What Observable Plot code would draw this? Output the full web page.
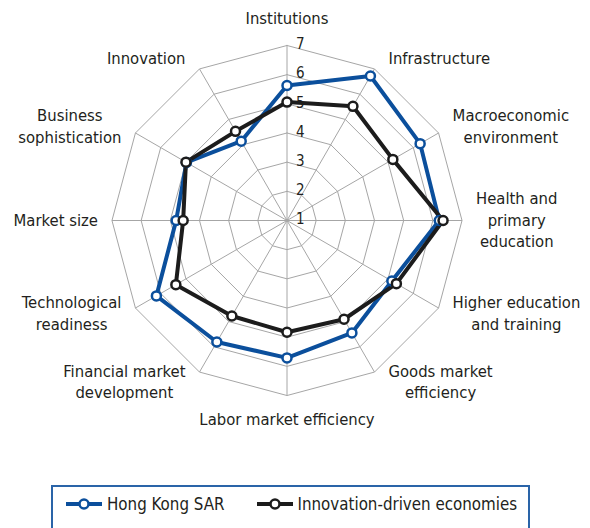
<!DOCTYPE html>
<html>
<head>
<meta charset="utf-8">
<script src="https://cdn.jsdelivr.net/npm/d3@7"></script>
<script src="https://cdn.jsdelivr.net/npm/@observablehq/plot@0.6"></script>
<style>
  html, body { margin: 0; padding: 0; background: #fff; }
  body { width: 590px; height: 528px; overflow: hidden;
         font-family: "DejaVu Sans Condensed", "DejaVu Sans", sans-serif; font-stretch: condensed; color: #231f20; }
  #chart svg { display: block; }
  #legend { margin: 5px 0 0 51px; width: 475px; border: 2px solid #2a64a8; box-sizing: content-box;
            display: flex; align-items: center; height: 34px; padding-bottom: 30px; font-size: 16.8px; }
  #legend .item { display: flex; align-items: center; }
  #legend svg { display: block; margin-right: 5px; }
</style>
</head>
<body>
<div id="chart"></div>
<div id="legend"></div>
<script>
// ---- data ----
const categories = [
  "Institutions",
  "Infrastructure",
  "Macroeconomic\nenvironment",
  "Health and\nprimary\neducation",
  "Higher education\nand training",
  "Goods market\nefficiency",
  "Labor market efficiency",
  "Financial market\ndevelopment",
  "Technological\nreadiness",
  "Market size",
  "Business\nsophistication",
  "Innovation"
];
const hongKong =         [5.63, 6.72, 6.27, 6.22, 5.15, 5.45, 5.71, 5.81, 6.17, 4.80, 4.98, 4.14];
const innovationDriven = [5.06, 5.52, 5.19, 6.35, 5.33, 4.91, 4.83, 4.78, 5.40, 4.56, 5.00, 4.53];
const seriesNames = ["Hong Kong SAR", "Innovation-driven economies"];
const tickValues = [1, 2, 3, 4, 5, 6, 7];

// ---- layout ----
const W = 590, H = 480;
const cx = 286.5, cy = 220, k = 29.17; // px per unit
const vMin = 1, vMax = 7;
const colors = ["#0b4f9c", "#1c1c1c"];
const n = categories.length;
const ang = i => (i * 2 * Math.PI) / n;
const px = (v, i) => (v - vMin) * Math.sin(ang(i));
const py = (v, i) => (v - vMin) * Math.cos(ang(i));

// rings
const rings = [];
for (const t of tickValues.filter(t => t > vMin)) {
  for (let i = 0; i <= n; i++) rings.push({t, x: px(t, i % n), y: py(t, i % n)});
}
// spokes
const spokes = categories.map((c, i) => ({x1: 0, y1: 0, x2: px(vMax, i), y2: py(vMax, i)}));

// series
const seriesValues = [hongKong, innovationDriven];
const lineData = [];
const dotData = [];
seriesValues.forEach((vals, s) => {
  for (let i = 0; i <= n; i++) {
    const d = {series: seriesNames[s], x: px(vals[i % n], i % n), y: py(vals[i % n], i % n)};
    lineData.push(d);
    if (i < n) dotData.push(d);
  }
});

// category labels: measured width for placement
const labelFontSize = 16.5;
const ctx = document.createElement("canvas").getContext("2d");
ctx.font = `${labelFontSize}px "DejaVu Sans Condensed", "DejaVu Sans", sans-serif`;
const labels = categories.map((c, i) => {
  const w = Math.max(...c.split("\n").map(l => ctx.measureText(l).width));
  const s = Math.sin(ang(i)), co = Math.cos(ang(i));
  let dx, dy;
  if (Math.abs(s) < 0.01) { dx = 0; dy = co > 0 ? -27 : 24; }
  else { dx = Math.sign(s) * (14 + w / 2); dy = -co * 12; }
  dy -= 2;
  return {text: c, x: px(vMax, i) + dx / k, y: py(vMax, i) - dy / k};
});

const chart = Plot.plot({
  width: W, height: H,
  marginTop: 0, marginRight: 0, marginBottom: 0, marginLeft: 0,
  x: {domain: [-cx / k, (W - cx) / k], axis: null},
  y: {domain: [(cy - H) / k, cy / k], axis: null},
  style: {fontFamily: '"DejaVu Sans Condensed", "DejaVu Sans", sans-serif', color: "#231f20", background: "#fff"},
  marks: [
    Plot.line(rings, {x: "x", y: "y", z: "t", stroke: "#a6a6a6", strokeWidth: 1}),
    Plot.link(spokes, {x1: "x1", y1: "y1", x2: "x2", y2: "y2", stroke: "#a6a6a6", strokeWidth: 1}),
    Plot.text(tickValues, {x: 0, y: t => t - vMin, text: d => String(d), textAnchor: "start", dx: 9, dy: -1,
      fontSize: 15, fill: "#231f20"}),
    Plot.line(lineData, {x: "x", y: "y", z: "series", stroke: "series", strokeWidth: 4, strokeLinejoin: "miter"}),
    Plot.dot(dotData, {x: "x", y: "y", r: 4.5, fill: "white", stroke: "series", strokeWidth: 2.5}),
    Plot.text(labels, {x: "x", y: "y", text: "text", textAnchor: "middle", lineAnchor: "middle",
      lineHeight: 1.33, fontSize: labelFontSize, fill: "#231f20"})
  ],
  color: {domain: seriesNames, range: colors}
});
document.getElementById("chart").appendChild(chart);

// legend
const legend = document.getElementById("legend");
seriesNames.forEach((name, i) => {
  const item = document.createElement("div");
  item.className = "item";
  item.style.marginLeft = i === 0 ? "13px" : "32px";
  item.innerHTML = `<svg width="36" height="14"><line x1="0" x2="36" y1="7" y2="7" stroke="${colors[i]}" stroke-width="4"/>` +
    `<circle cx="18" cy="7" r="4.5" fill="white" stroke="${colors[i]}" stroke-width="2.5"/></svg><span>${name}</span>`;
  legend.appendChild(item);
});
</script>
</body>
</html>
